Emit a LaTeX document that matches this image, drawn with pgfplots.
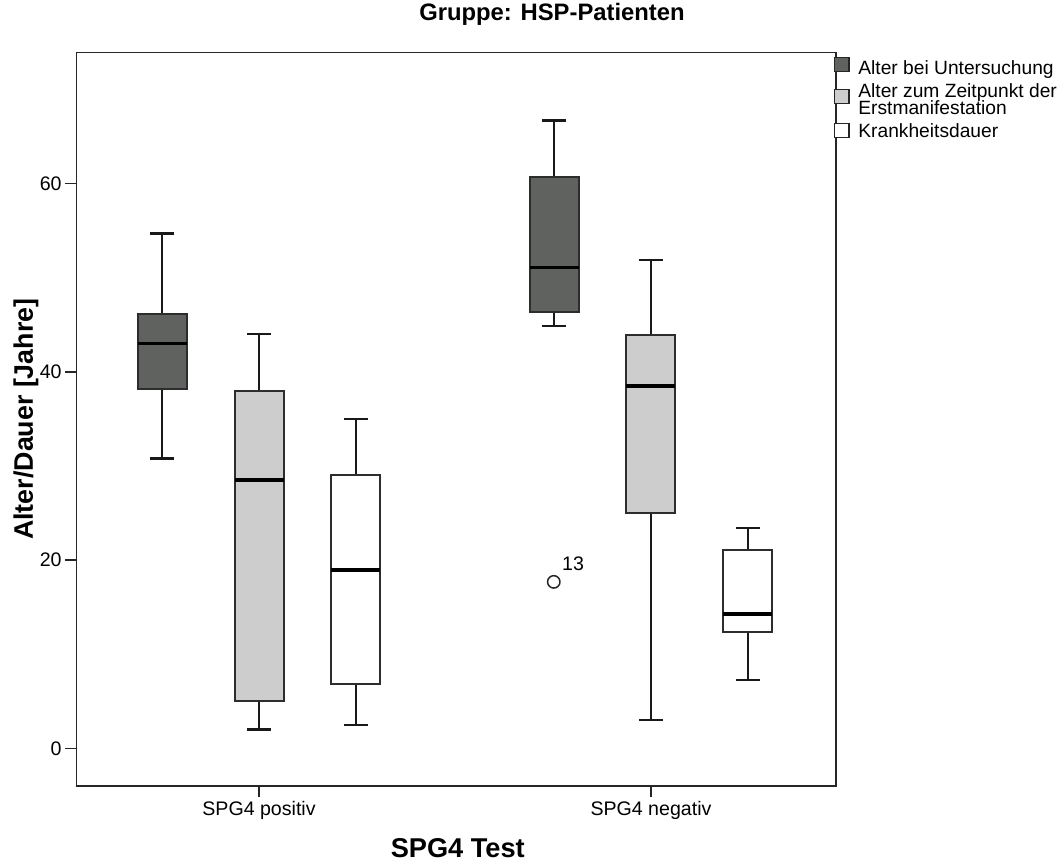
\documentclass[border=0pt]{standalone}
\usepackage{pgfplots}
\pgfplotsset{compat=1.18}
\usepgfplotslibrary{statistics}
\usepackage{fontspec}
\setmainfont{Liberation Sans}
\definecolor{darkfill}{RGB}{95,98,95}
\definecolor{lightfill}{RGB}{205,205,205}
\definecolor{boxline}{RGB}{45,45,45}
\begin{document}
\begin{tikzpicture}
\begin{axis}[
  scale only axis, width=379.75pt, height=366.5pt,
  xmin=-0.4656, xmax=1.472, ymin=-3.95, ymax=73.9,
  xtick={0,1}, xticklabels={SPG4 positiv, SPG4 negativ},
  ytick={0,20,40,60},
  tick align=outside, major tick length=5.5pt,
  xtick pos=bottom, ytick pos=left,
  tick style={line width=0.75pt, black!85},
  axis line style={line width=0.8pt, black!85},
  ticklabel style={font=\fontsize{9.8}{9.8}\selectfont, inner sep=0pt},
  /pgf/number format/assume math mode=true,
  xticklabel style={yshift=-2pt},
  yticklabel style={xshift=-1.75pt},
  clip=false,
  title={Gruppe: HSP-Patienten},
  title style={at={(axis description cs:0.626,1.0278)}, anchor=base, font=\fontsize{11.9}{11.9}\selectfont\bfseries},
  xlabel={SPG4 Test},
  xlabel style={at={(axis description cs:0.502,-0.0986)}, anchor=base, font=\fontsize{13.6}{13.6}\selectfont\bfseries},
  ylabel={Alter/Dauer [Jahre]},
  ylabel style={at={(axis description cs:-0.0573,0.5)}, anchor=base, font=\fontsize{13.4}{13.4}\selectfont\bfseries},
  boxplot/draw direction=y,
  boxplot/every box/.style={draw=boxline, line width=1pt},
  boxplot/every median/.style={draw=black, line width=1.7pt},
  boxplot/every whisker/.style={draw=black!90, line width=1.2pt},
  boxplot/box extend=0.125,
  boxplot/whisker extend=0.062,
]
% SPG4 positiv
\addplot[boxplot prepared={draw position=-0.247, lower whisker=30.8, lower quartile=38.2, median=43.0, upper quartile=46.2, upper whisker=54.7}, boxplot/draw direction=y, fill=darkfill, draw=boxline] coordinates {};
\addplot[boxplot prepared={draw position=0, lower whisker=2.0, lower quartile=5.0, median=28.5, upper quartile=37.95, upper whisker=44.0}, boxplot/draw direction=y, fill=lightfill, draw=boxline] coordinates {};
\addplot[boxplot prepared={draw position=0.247, lower whisker=2.5, lower quartile=6.9, median=18.95, upper quartile=29.1, upper whisker=35.0}, boxplot/draw direction=y, fill=white, draw=boxline] coordinates {};
% SPG4 negativ
\addplot[boxplot prepared={draw position=0.753, lower whisker=44.9, lower quartile=46.4, median=51.1, upper quartile=60.7, upper whisker=66.7}, boxplot/draw direction=y, fill=darkfill, draw=boxline] coordinates {};
\addplot[boxplot prepared={draw position=1, lower whisker=3.0, lower quartile=25.0, median=38.5, upper quartile=43.9, upper whisker=51.9}, boxplot/draw direction=y, fill=lightfill, draw=boxline] coordinates {};
\addplot[boxplot prepared={draw position=1.247, lower whisker=7.3, lower quartile=12.4, median=14.3, upper quartile=21.1, upper whisker=23.4}, boxplot/draw direction=y, fill=white, draw=boxline] coordinates {};
% outlier
\addplot[only marks, mark=o, mark size=3.1pt, mark options={line width=0.75pt, draw=black!85}] coordinates {(0.752,17.7)};
\node[anchor=base west, inner sep=0pt, font=\fontsize{9.8}{9.8}\selectfont, xshift=4pt, yshift=5.5pt] at (axis cs:0.752,17.7) {13};
\coordinate (SW) at (rel axis cs:0,0);
\coordinate (NE) at (rel axis cs:1,1);
\end{axis}
% legend
\begin{scope}[shift={(NE)}, x=0.5pt, y=0.5pt]
\draw[fill=darkfill, draw=black!85, line width=0.65pt] (-1.5,-4.5) rectangle (13,-19);
\draw[fill=lightfill, draw=black!85, line width=0.65pt] (-1.5,-36.5) rectangle (13,-51);
\draw[fill=white, draw=black!85, line width=0.65pt] (-1.5,-70.5) rectangle (13,-85);
\node[anchor=base west, inner sep=0pt, font=\fontsize{9.6}{9.6}\selectfont] at (22,-21.6) {Alter bei Untersuchung};
\node[anchor=base west, inner sep=0pt, font=\fontsize{9.6}{9.6}\selectfont] at (22,-44.5) {Alter zum Zeitpunkt der};
\node[anchor=base west, inner sep=0pt, font=\fontsize{9.6}{9.6}\selectfont] at (22,-62.0) {Erstmanifestation};
\node[anchor=base west, inner sep=0pt, font=\fontsize{9.6}{9.6}\selectfont] at (22,-85.0) {Krankheitsdauer};
\end{scope}
\pgfresetboundingbox
\path ([xshift=-38.25pt,yshift=-39.15pt]SW) rectangle ([xshift=111.5pt,yshift=26.35pt]NE);
\end{tikzpicture}
\end{document}
